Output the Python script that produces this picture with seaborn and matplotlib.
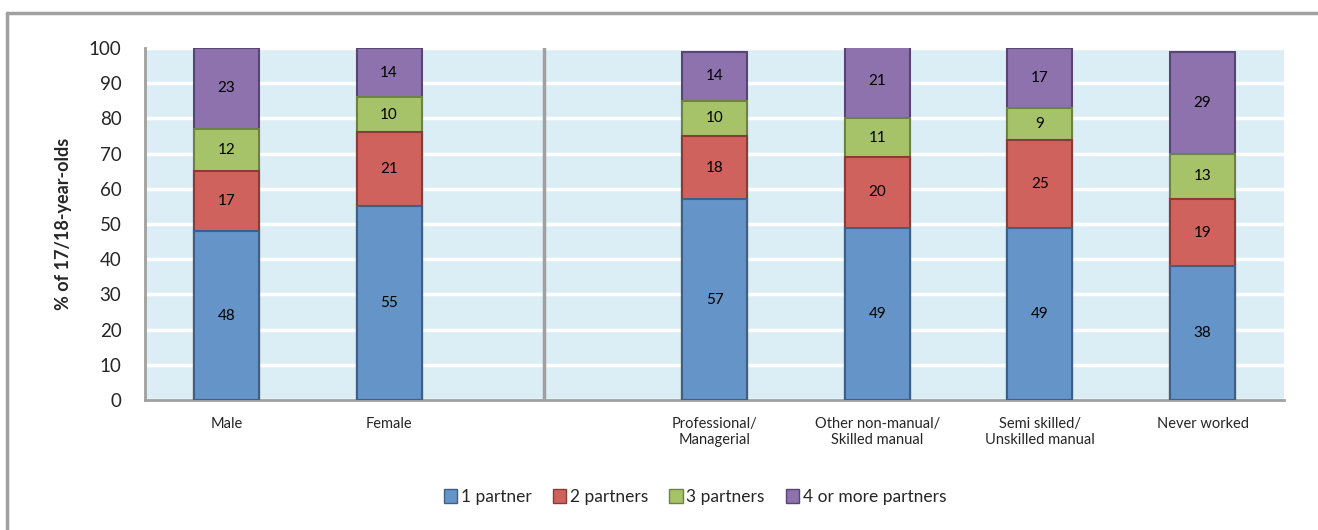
import numpy as np
import pandas as pd
import matplotlib
matplotlib.use("Agg")
import matplotlib.pyplot as plt
from matplotlib.lines import Line2D
from matplotlib.patches import Patch
import seaborn as sns

# data (blank slot separates gender from class)
categories = ["Male", "Female", " ", "Professional/\nManagerial",
              "Other non-manual/\nSkilled manual", "Semi skilled/\nUnskilled manual",
              "Never worked"]
one_partner = [48, 55, np.nan, 57, 49, 49, 38]
two_partners = [17, 21, np.nan, 18, 20, 25, 19]
three_partners = [12, 10, np.nan, 10, 11, 9, 13]
four_plus = [23, 14, np.nan, 14, 21, 17, 29]
series_names = ["1 partner", "2 partners", "3 partners", "4 or more partners"]

colors = ["#6594C8", "#D0625E", "#A7C36A", "#8D72AE"]
edges = ["#3E5F86", "#8A3A37", "#6C8440", "#5A4476"]

sns.set_style("white")
plt.rcParams["font.family"] = ["Lato", "DejaVu Sans"]

df = pd.DataFrame({"cat": categories, "s1": one_partner, "s2": two_partners,
                   "s3": three_partners, "s4": four_plus})
cols = ["s1", "s2", "s3", "s4"]
cum = df[cols].cumsum(axis=1)

fig = plt.figure(figsize=(13.18, 5.3), dpi=100)
ax = fig.add_axes([145 / 1318, 130 / 530, (1284 - 145) / 1318, 352 / 530])
ax.set_facecolor("#DCEEF5")

# draw tallest cumulative first so lower layers sit on top
for i in range(3, -1, -1):
    sns.barplot(x=df["cat"], y=cum[cols[i]], order=categories, color=colors[i],
                width=0.4, edgecolor=edges[i], linewidth=1.5, saturation=1, ax=ax,
                zorder=3)

# segment labels
for j in range(len(categories)):
    bottom = 0
    for i, c in enumerate(cols):
        v = df[c].iloc[j]
        if np.isnan(v):
            continue
        ax.text(j, bottom + v / 2, f"{int(v)}", ha="center", va="center",
                fontsize=11, color="black", zorder=5)
        bottom += v

ax.set_ylim(0, 100)
ax.set_xlim(-0.5, len(categories) - 0.5)
ax.set_yticks(range(0, 101, 10))
ax.tick_params(axis="y", labelsize=13.5, length=7, width=1.5, color="#A0A0A0",
               direction="out", pad=10)
ax.tick_params(axis="x", which="major", labelsize=10.5, length=0, pad=12)
ax.set_xticks(np.arange(-0.5, len(categories), 1), minor=True)
ax.tick_params(axis="x", which="minor", length=6, width=1.5, color="#A0A0A0")
ax.yaxis.grid(True, color="white", linewidth=2.5, zorder=1)
ax.set_axisbelow(True)
ax.set_xlabel("")
ax.set_ylabel("% of 17/18-year-olds", fontsize=13, fontweight="bold", labelpad=12)
for s in ["top", "right"]:
    ax.spines[s].set_visible(False)
for s in ["left", "bottom"]:
    ax.spines[s].set_color("#A0A0A0")
    ax.spines[s].set_linewidth(2)

ax.axvline(1.95, color="#A0A0A0", linewidth=2.5, zorder=2)

handles = [Patch(facecolor=colors[i], edgecolor=edges[i]) for i in range(4)]
fig.legend(handles, series_names, loc="center", bbox_to_anchor=(695 / 1318, 1 - 497 / 530),
           ncol=4, frameon=False, fontsize=12.5, handlelength=0.8, handleheight=0.8,
           handletextpad=0.2, columnspacing=1.2)

# outer frame (top and left edges visible)
fig.add_artist(Line2D([7 / 1318, 1], [1 - 13 / 530, 1 - 13 / 530], color="#A0A0A0", linewidth=2.5))
fig.add_artist(Line2D([7 / 1318, 7 / 1318], [0, 1 - 13 / 530], color="#A0A0A0", linewidth=2.5))

fig.savefig("out.png", dpi=100)
